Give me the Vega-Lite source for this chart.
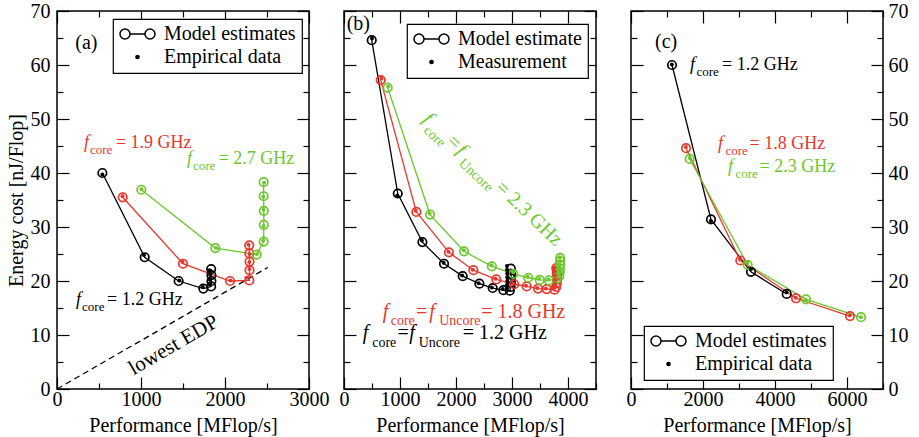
{
  "$schema": "https://vega.github.io/schema/vega-lite/v6.json",
  "background": "white",
  "padding": {"left": 5, "top": 0, "right": 5, "bottom": 3},
  "config": {
    "font": "Liberation Serif",
    "view": {"stroke": "black", "strokeWidth": 1.5},
    "style": {"guide-label": {"font": "Liberation Serif", "fontSize": 20}, "guide-title": {"font": "Liberation Serif", "fontSize": 20}},
    "text": {"font": "Liberation Serif"},
    "axis": {"domain": false, "grid": false, "labelFont": "Liberation Serif", "labelFontSize": 20, "labelColor": "black", "titleFont": "Liberation Serif", "titleFontSize": 20, "titleFontWeight": "normal", "titleColor": "black", "tickColor": "black", "tickWidth": 1.2, "labelFlush": false, "labelOverlap": false, "labelPadding": 19},
    "legend": {"labelFont": "Liberation Serif", "labelFontSize": 20, "labelColor": "black", "strokeColor": "black", "fillColor": "white", "padding": 6, "clipHeight": 18, "rowPadding": 3, "labelOffset": 8, "symbolSize": 1225, "symbolStrokeWidth": 1.5, "symbolStrokeColor": "black", "symbolFillColor": "white", "symbolOpacity": 1, "strokeWidth": 1.2}
  },
  "datasets": {
    "a_model": [
      {"fcore": "1.2", "seq": 1, "perf": 540, "energy": 40.0}, {"fcore": "1.2", "seq": 2, "perf": 1044, "energy": 24.4}, {"fcore": "1.2", "seq": 3, "perf": 1448, "energy": 20.0}, {"fcore": "1.2", "seq": 4, "perf": 1742, "energy": 18.6}, {"fcore": "1.2", "seq": 5, "perf": 1835, "energy": 19.0}, {"fcore": "1.2", "seq": 6, "perf": 1838, "energy": 20.0}, {"fcore": "1.2", "seq": 7, "perf": 1838, "energy": 21.1}, {"fcore": "1.2", "seq": 8, "perf": 1835, "energy": 22.2},
      {"fcore": "1.9", "seq": 1, "perf": 782, "energy": 35.5}, {"fcore": "1.9", "seq": 2, "perf": 1500, "energy": 23.2}, {"fcore": "1.9", "seq": 3, "perf": 2060, "energy": 20.0}, {"fcore": "1.9", "seq": 4, "perf": 2290, "energy": 20.1}, {"fcore": "1.9", "seq": 5, "perf": 2292, "energy": 22.0}, {"fcore": "1.9", "seq": 6, "perf": 2292, "energy": 23.6}, {"fcore": "1.9", "seq": 7, "perf": 2290, "energy": 25.1}, {"fcore": "1.9", "seq": 8, "perf": 2288, "energy": 26.6},
      {"fcore": "2.7", "seq": 1, "perf": 1004, "energy": 36.9}, {"fcore": "2.7", "seq": 2, "perf": 1885, "energy": 26.1}, {"fcore": "2.7", "seq": 3, "perf": 2377, "energy": 24.9}, {"fcore": "2.7", "seq": 4, "perf": 2460, "energy": 27.3}, {"fcore": "2.7", "seq": 5, "perf": 2462, "energy": 30.4}, {"fcore": "2.7", "seq": 6, "perf": 2462, "energy": 33.0}, {"fcore": "2.7", "seq": 7, "perf": 2460, "energy": 35.7}, {"fcore": "2.7", "seq": 8, "perf": 2460, "energy": 38.3}
    ],
    "a_emp": [
      {"fcore": "1.2", "perf": 540, "energy": 39.7}, {"fcore": "1.2", "perf": 1035, "energy": 24.8}, {"fcore": "1.2", "perf": 1455, "energy": 20.1}, {"fcore": "1.2", "perf": 1735, "energy": 18.9}, {"fcore": "1.2", "perf": 1815, "energy": 19.4}, {"fcore": "1.2", "perf": 1818, "energy": 20.3}, {"fcore": "1.2", "perf": 1822, "energy": 21.2}, {"fcore": "1.2", "perf": 1815, "energy": 22.0},
      {"fcore": "1.9", "perf": 780, "energy": 35.7}, {"fcore": "1.9", "perf": 1495, "energy": 23.5}, {"fcore": "1.9", "perf": 2065, "energy": 20.1}, {"fcore": "1.9", "perf": 2255, "energy": 20.6}, {"fcore": "1.9", "perf": 2290, "energy": 22.2}, {"fcore": "1.9", "perf": 2290, "energy": 23.5}, {"fcore": "1.9", "perf": 2292, "energy": 25.0}, {"fcore": "1.9", "perf": 2280, "energy": 26.7},
      {"fcore": "2.7", "perf": 1005, "energy": 37.0}, {"fcore": "2.7", "perf": 1895, "energy": 26.1}, {"fcore": "2.7", "perf": 2380, "energy": 25.0}, {"fcore": "2.7", "perf": 2455, "energy": 27.5}, {"fcore": "2.7", "perf": 2458, "energy": 30.2}, {"fcore": "2.7", "perf": 2458, "energy": 33.2}, {"fcore": "2.7", "perf": 2455, "energy": 35.6}, {"fcore": "2.7", "perf": 2465, "energy": 38.2}
    ],
    "a_txt": [
      {"fcore": "1.9", "perf": 321, "energy": 44.7, "text": "f", "part": "f"}, {"fcore": "1.9", "perf": 393, "energy": 43.6, "text": "core", "part": "sub"}, {"fcore": "1.9", "perf": 702, "energy": 44.7, "text": "= 1.9 GHz", "part": "txt"},
      {"fcore": "2.7", "perf": 1548, "energy": 41.6, "text": "f", "part": "f"}, {"fcore": "2.7", "perf": 1619, "energy": 40.5, "text": "core", "part": "sub"}, {"fcore": "2.7", "perf": 1925, "energy": 41.6, "text": "= 2.7 GHz", "part": "txt"},
      {"fcore": "1.2", "perf": 226, "energy": 15.6, "text": "f", "part": "f"}, {"fcore": "1.2", "perf": 298, "energy": 14.4, "text": "core", "part": "sub"}, {"fcore": "1.2", "perf": 595, "energy": 15.6, "text": "= 1.2 GHz", "part": "txt"}
    ],
    "b_model": [
      {"fcore": "1.2", "seq": 1, "perf": 495, "energy": 64.6}, {"fcore": "1.2", "seq": 2, "perf": 960, "energy": 36.2}, {"fcore": "1.2", "seq": 3, "perf": 1400, "energy": 27.2}, {"fcore": "1.2", "seq": 4, "perf": 1786, "energy": 23.2}, {"fcore": "1.2", "seq": 5, "perf": 2120, "energy": 20.9}, {"fcore": "1.2", "seq": 6, "perf": 2418, "energy": 19.5}, {"fcore": "1.2", "seq": 7, "perf": 2655, "energy": 18.7}, {"fcore": "1.2", "seq": 8, "perf": 2846, "energy": 18.3}, {"fcore": "1.2", "seq": 9, "perf": 2960, "energy": 18.2}, {"fcore": "1.2", "seq": 10, "perf": 2975, "energy": 18.9}, {"fcore": "1.2", "seq": 11, "perf": 2980, "energy": 19.7}, {"fcore": "1.2", "seq": 12, "perf": 2982, "energy": 20.5}, {"fcore": "1.2", "seq": 13, "perf": 2982, "energy": 21.3}, {"fcore": "1.2", "seq": 14, "perf": 2980, "energy": 22.3},
      {"fcore": "1.8", "seq": 1, "perf": 655, "energy": 57.2}, {"fcore": "1.8", "seq": 2, "perf": 1292, "energy": 32.8}, {"fcore": "1.8", "seq": 3, "perf": 1875, "energy": 25.3}, {"fcore": "1.8", "seq": 4, "perf": 2310, "energy": 22.0}, {"fcore": "1.8", "seq": 5, "perf": 2720, "energy": 20.3}, {"fcore": "1.8", "seq": 6, "perf": 3040, "energy": 19.4}, {"fcore": "1.8", "seq": 7, "perf": 3262, "energy": 19.0}, {"fcore": "1.8", "seq": 8, "perf": 3465, "energy": 18.6}, {"fcore": "1.8", "seq": 9, "perf": 3620, "energy": 18.5}, {"fcore": "1.8", "seq": 10, "perf": 3760, "energy": 18.4}, {"fcore": "1.8", "seq": 11, "perf": 3790, "energy": 18.9}, {"fcore": "1.8", "seq": 12, "perf": 3800, "energy": 19.6}, {"fcore": "1.8", "seq": 13, "perf": 3805, "energy": 20.3}, {"fcore": "1.8", "seq": 14, "perf": 3805, "energy": 21.0}, {"fcore": "1.8", "seq": 15, "perf": 3800, "energy": 21.7}, {"fcore": "1.8", "seq": 16, "perf": 3790, "energy": 22.4},
      {"fcore": "2.3", "seq": 1, "perf": 780, "energy": 55.8}, {"fcore": "2.3", "seq": 2, "perf": 1536, "energy": 32.3}, {"fcore": "2.3", "seq": 3, "perf": 2143, "energy": 25.5}, {"fcore": "2.3", "seq": 4, "perf": 2640, "energy": 22.7}, {"fcore": "2.3", "seq": 5, "perf": 3025, "energy": 21.3}, {"fcore": "2.3", "seq": 6, "perf": 3290, "energy": 20.6}, {"fcore": "2.3", "seq": 7, "perf": 3495, "energy": 20.2}, {"fcore": "2.3", "seq": 8, "perf": 3660, "energy": 20.1}, {"fcore": "2.3", "seq": 9, "perf": 3800, "energy": 20.4}, {"fcore": "2.3", "seq": 10, "perf": 3845, "energy": 20.9}, {"fcore": "2.3", "seq": 11, "perf": 3852, "energy": 21.6}, {"fcore": "2.3", "seq": 12, "perf": 3856, "energy": 22.3}, {"fcore": "2.3", "seq": 13, "perf": 3858, "energy": 23.0}, {"fcore": "2.3", "seq": 14, "perf": 3860, "energy": 23.7}, {"fcore": "2.3", "seq": 15, "perf": 3860, "energy": 24.3}
    ],
    "b_emp": [
      {"fcore": "1.2", "perf": 500, "energy": 64.9}, {"fcore": "1.2", "perf": 950, "energy": 35.8}, {"fcore": "1.2", "perf": 1390, "energy": 27.5}, {"fcore": "1.2", "perf": 1780, "energy": 23.4}, {"fcore": "1.2", "perf": 2110, "energy": 21.0}, {"fcore": "1.2", "perf": 2405, "energy": 19.6}, {"fcore": "1.2", "perf": 2640, "energy": 18.8}, {"fcore": "1.2", "perf": 2835, "energy": 18.5}, {"fcore": "1.2", "perf": 2910, "energy": 18.6}, {"fcore": "1.2", "perf": 2912, "energy": 19.3}, {"fcore": "1.2", "perf": 2915, "energy": 20.0}, {"fcore": "1.2", "perf": 2915, "energy": 20.7}, {"fcore": "1.2", "perf": 2915, "energy": 21.4}, {"fcore": "1.2", "perf": 2912, "energy": 22.1}, {"fcore": "1.2", "perf": 2910, "energy": 22.8},
      {"fcore": "1.8", "perf": 665, "energy": 57.5}, {"fcore": "1.8", "perf": 1280, "energy": 33.0}, {"fcore": "1.8", "perf": 1865, "energy": 25.4}, {"fcore": "1.8", "perf": 2300, "energy": 22.1}, {"fcore": "1.8", "perf": 2705, "energy": 20.4}, {"fcore": "1.8", "perf": 3025, "energy": 19.5}, {"fcore": "1.8", "perf": 3250, "energy": 19.1}, {"fcore": "1.8", "perf": 3450, "energy": 18.7}, {"fcore": "1.8", "perf": 3605, "energy": 18.6}, {"fcore": "1.8", "perf": 3745, "energy": 18.6}, {"fcore": "1.8", "perf": 3760, "energy": 19.4}, {"fcore": "1.8", "perf": 3765, "energy": 20.2}, {"fcore": "1.8", "perf": 3765, "energy": 21.0}, {"fcore": "1.8", "perf": 3760, "energy": 21.8}, {"fcore": "1.8", "perf": 3755, "energy": 22.5},
      {"fcore": "2.3", "perf": 790, "energy": 56.0}, {"fcore": "2.3", "perf": 1530, "energy": 32.5}, {"fcore": "2.3", "perf": 2140, "energy": 25.7}, {"fcore": "2.3", "perf": 2635, "energy": 22.9}, {"fcore": "2.3", "perf": 3020, "energy": 21.6}, {"fcore": "2.3", "perf": 3280, "energy": 20.8}, {"fcore": "2.3", "perf": 3485, "energy": 20.4}, {"fcore": "2.3", "perf": 3650, "energy": 20.3}, {"fcore": "2.3", "perf": 3835, "energy": 21.2}, {"fcore": "2.3", "perf": 3840, "energy": 22.0}, {"fcore": "2.3", "perf": 3845, "energy": 22.8}, {"fcore": "2.3", "perf": 3848, "energy": 23.6}, {"fcore": "2.3", "perf": 3850, "energy": 24.4}
    ],
    "b_txt": [
      {"fcore": "1.8", "perf": 691, "energy": 13.2, "text": "f", "part": "f"}, {"fcore": "1.8", "perf": 834, "energy": 11.85, "text": "core", "part": "sub"}, {"fcore": "1.8", "perf": 1285, "energy": 13.2, "text": "=", "part": "txt"}, {"fcore": "1.8", "perf": 1522, "energy": 13.2, "text": "f", "part": "f"}, {"fcore": "1.8", "perf": 1700, "energy": 11.85, "text": "Uncore", "part": "sub"}, {"fcore": "1.8", "perf": 2450, "energy": 13.2, "text": "= 1.8 GHz", "part": "txt"},
      {"fcore": "1.2", "perf": 334, "energy": 9.2, "text": "f", "part": "f"}, {"fcore": "1.2", "perf": 504, "energy": 7.85, "text": "core", "part": "sub"}, {"fcore": "1.2", "perf": 955, "energy": 9.2, "text": "=", "part": "txt"}, {"fcore": "1.2", "perf": 1165, "energy": 9.2, "text": "f", "part": "f"}, {"fcore": "1.2", "perf": 1335, "energy": 7.85, "text": "Uncore", "part": "sub"}, {"fcore": "1.2", "perf": 2120, "energy": 9.2, "text": "= 1.2 GHz", "part": "txt"}
    ],
    "b_rot": [
      {"fcore": "2.3", "perf": 1395, "energy": 49.7, "text": "f", "part": "f"}, {"fcore": "2.3", "perf": 1409, "energy": 47.7, "text": "core", "part": "sub"}, {"fcore": "2.3", "perf": 1820, "energy": 45.6, "text": "=", "part": "txt"}, {"fcore": "2.3", "perf": 1996, "energy": 43.9, "text": "f", "part": "f"}, {"fcore": "2.3", "perf": 2036, "energy": 41.6, "text": "Uncore", "part": "sub"}, {"fcore": "2.3", "perf": 2690, "energy": 37.1, "text": "= 2.3 GHz", "part": "txt"}
    ],
    "c_model": [
      {"fcore": "1.2", "seq": 1, "perf": 1139, "energy": 60.0}, {"fcore": "1.2", "seq": 2, "perf": 2222, "energy": 31.4}, {"fcore": "1.2", "seq": 3, "perf": 3333, "energy": 21.7}, {"fcore": "1.2", "seq": 4, "perf": 4325, "energy": 17.6},
      {"fcore": "1.8", "seq": 1, "perf": 1528, "energy": 44.6}, {"fcore": "1.8", "seq": 2, "perf": 3036, "energy": 23.8}, {"fcore": "1.8", "seq": 3, "perf": 4583, "energy": 16.8}, {"fcore": "1.8", "seq": 4, "perf": 6083, "energy": 13.5},
      {"fcore": "2.3", "seq": 1, "perf": 1630, "energy": 42.6}, {"fcore": "2.3", "seq": 2, "perf": 3241, "energy": 23.0}, {"fcore": "2.3", "seq": 3, "perf": 4861, "energy": 16.6}, {"fcore": "2.3", "seq": 4, "perf": 6389, "energy": 13.3}
    ],
    "c_emp": [
      {"fcore": "1.2", "perf": 1135, "energy": 60.1}, {"fcore": "1.2", "perf": 2215, "energy": 31.1}, {"fcore": "1.2", "perf": 3330, "energy": 22.2}, {"fcore": "1.2", "perf": 4320, "energy": 17.9},
      {"fcore": "1.8", "perf": 1525, "energy": 44.8}, {"fcore": "1.8", "perf": 3030, "energy": 24.0}, {"fcore": "1.8", "perf": 4575, "energy": 16.9}, {"fcore": "1.8", "perf": 6080, "energy": 13.6},
      {"fcore": "2.3", "perf": 1635, "energy": 42.8}, {"fcore": "2.3", "perf": 3230, "energy": 23.4}, {"fcore": "2.3", "perf": 4855, "energy": 16.5}, {"fcore": "2.3", "perf": 6385, "energy": 13.3}
    ],
    "c_txt": [
      {"fcore": "1.2", "perf": 1639, "energy": 59.0, "text": "f", "part": "f"}, {"fcore": "1.2", "perf": 1819, "energy": 58.0, "text": "core", "part": "sub"}, {"fcore": "1.2", "perf": 2528, "energy": 59.0, "text": "= 1.2 GHz", "part": "txt"},
      {"fcore": "1.8", "perf": 2417, "energy": 44.4, "text": "f", "part": "f"}, {"fcore": "1.8", "perf": 2625, "energy": 43.3, "text": "core", "part": "sub"}, {"fcore": "1.8", "perf": 3292, "energy": 44.4, "text": "= 1.8 GHz", "part": "txt"},
      {"fcore": "2.3", "perf": 2694, "energy": 40.2, "text": "f", "part": "f"}, {"fcore": "2.3", "perf": 2903, "energy": 39.1, "text": "core", "part": "sub"}, {"fcore": "2.3", "perf": 3569, "energy": 40.2, "text": "= 2.3 GHz", "part": "txt"}
    ]
  },
  "hconcat": [
    {
      "width": 252, "height": 378,
      "resolve": {"axis": {"x": "independent", "y": "independent"}},
      "layer": [
        {
          "data": {"values": [{"perf": 0, "energy": 0}, {"perf": 2510, "energy": 22.5}]},
          "mark": {"type": "line", "color": "black", "strokeWidth": 1.3, "strokeDash": [6, 4]},
          "encoding": {
            "x": {"field": "perf", "type": "quantitative", "scale": {"domain": [0, 3000], "nice": false}, "axis": null},
            "y": {"field": "energy", "type": "quantitative", "scale": {"domain": [0, 70], "nice": false}, "axis": null}
          }
        },
        {
          "data": {"name": "a_model"},
          "mark": {"type": "line", "strokeWidth": 1.3},
          "encoding": {
            "x": {"field": "perf", "type": "quantitative", "scale": {"domain": [0, 3000], "nice": false},
              "axis": {"orient": "bottom", "values": [0, 500, 1000, 1500, 2000, 2500, 3000], "format": "d", "labelFont": "Liberation Serif", "labelPadding": 12, "labelExpr": "datum.value % 1000 === 0 ? datum.label : ''", "tickSize": {"expr": "datum.value % 1000 === 0 ? -12 : -6"}, "title": "Performance [MFlop/s]", "titlePadding": 0}},
            "y": {"field": "energy", "type": "quantitative", "scale": {"domain": [0, 70], "nice": false},
              "axis": {"orient": "left", "values": [0, 5, 10, 15, 20, 25, 30, 35, 40, 45, 50, 55, 60, 65, 70], "format": "d", "labelFont": "Liberation Serif", "labelExpr": "datum.value % 10 === 0 ? datum.label : ''", "tickSize": {"expr": "datum.value % 10 === 0 ? -12 : -6"}, "title": "Energy cost [nJ/Flop]", "titlePadding": 4}},
            "color": {"field": "fcore", "type": "nominal", "scale": {"domain": ["1.2", "1.8", "1.9", "2.3", "2.7"], "range": ["#000000", "#e8372c", "#e8372c", "#6cc72d", "#6cc72d"]}, "legend": null},
            "order": {"field": "seq", "type": "quantitative"}
          }
        },
        {
          "data": {"name": "a_model"},
          "mark": {"type": "point", "shape": "circle", "filled": false, "size": 72, "strokeWidth": 1.7, "opacity": 1},
          "encoding": {
            "x": {"field": "perf", "type": "quantitative", "scale": {"domain": [0, 3000], "nice": false},
              "axis": {"orient": "top", "values": [0, 500, 1000, 1500, 2000, 2500, 3000], "labels": false, "tickSize": {"expr": "datum.value % 1000 === 0 ? -12 : -6"}, "title": null}},
            "y": {"field": "energy", "type": "quantitative", "scale": {"domain": [0, 70], "nice": false},
              "axis": {"orient": "right", "values": [0, 5, 10, 15, 20, 25, 30, 35, 40, 45, 50, 55, 60, 65, 70], "labels": false, "tickSize": {"expr": "datum.value % 10 === 0 ? -12 : -6"}, "title": null}},
            "color": {"field": "fcore", "type": "nominal", "legend": null}
          }
        },
        {
          "data": {"name": "a_emp"},
          "mark": {"type": "point", "shape": "circle", "filled": true, "size": 16, "opacity": 1},
          "encoding": {
            "x": {"field": "perf", "type": "quantitative", "axis": null},
            "y": {"field": "energy", "type": "quantitative", "axis": null},
            "color": {"field": "fcore", "type": "nominal", "legend": null}
          }
        },
        {
          "data": {"name": "a_txt"},
          "transform": [{"filter": "datum.part === 'f'"}],
          "mark": {"type": "text", "align": "left", "baseline": "alphabetic", "font": "Liberation Serif", "fontSize": 18, "fontStyle": "italic"},
          "encoding": {
            "x": {"field": "perf", "type": "quantitative", "axis": null},
            "y": {"field": "energy", "type": "quantitative", "axis": null},
            "text": {"field": "text"},
            "color": {"field": "fcore", "type": "nominal", "legend": null}
          }
        },
        {
          "data": {"name": "a_txt"},
          "transform": [{"filter": "datum.part === 'sub'"}],
          "mark": {"type": "text", "align": "left", "baseline": "alphabetic", "font": "Liberation Serif", "fontSize": 13},
          "encoding": {
            "x": {"field": "perf", "type": "quantitative", "axis": null},
            "y": {"field": "energy", "type": "quantitative", "axis": null},
            "text": {"field": "text"},
            "color": {"field": "fcore", "type": "nominal", "legend": null}
          }
        },
        {
          "data": {"name": "a_txt"},
          "transform": [{"filter": "datum.part === 'txt'"}],
          "mark": {"type": "text", "align": "left", "baseline": "alphabetic", "font": "Liberation Serif", "fontSize": 18},
          "encoding": {
            "x": {"field": "perf", "type": "quantitative", "axis": null},
            "y": {"field": "energy", "type": "quantitative", "axis": null},
            "text": {"field": "text"},
            "color": {"field": "fcore", "type": "nominal", "legend": null}
          }
        },
        {
          "data": {"values": [{"perf": 218, "energy": 62.9, "text": "(a)"}]},
          "mark": {"type": "text", "align": "left", "baseline": "alphabetic", "font": "Liberation Serif", "fontSize": 20, "color": "black"},
          "encoding": {
            "x": {"field": "perf", "type": "quantitative", "axis": null},
            "y": {"field": "energy", "type": "quantitative", "axis": null},
            "text": {"field": "text"}
          }
        },
        {
          "data": {"values": [{"perf": 1389, "energy": 8.1, "text": "lowest EDP"}]},
          "mark": {"type": "text", "align": "center", "baseline": "middle", "font": "Liberation Serif", "fontSize": 21, "angle": -30, "color": "black"},
          "encoding": {
            "x": {"field": "perf", "type": "quantitative", "axis": null},
            "y": {"field": "energy", "type": "quantitative", "axis": null},
            "text": {"field": "text"}
          }
        },
        {
          "data": {"values": [{"kind": "Model estimates"}, {"kind": "Empirical data"}]},
          "mark": {"type": "point", "filled": false, "opacity": 0},
          "encoding": {
            "shape": {"field": "kind", "type": "nominal", "title": null,
              "scale": {"domain": ["Model estimates", "Empirical data"], "range": ["M-1,0A0.286,0.286,0,1,1,-0.428,0A0.286,0.286,0,1,1,-1,0ZM-0.428,0L0.428,0M0.428,0A0.286,0.286,0,1,1,1,0A0.286,0.286,0,1,1,0.428,0Z", "M-0.0914,0A0.0914,0.0914,0,1,1,0.0914,0A0.0914,0.0914,0,1,1,-0.0914,0ZM-0.0457,0A0.0457,0.0457,0,1,1,0.0457,0A0.0457,0.0457,0,1,1,-0.0457,0Z"]},
              "legend": {"orient": "none", "legendX": 56, "legendY": 8, "title": null}}
          }
        }
      ]
    },
    {
      "width": 252, "height": 378,
      "resolve": {"axis": {"x": "independent", "y": "independent"}},
      "layer": [
        {
          "data": {"name": "b_model"},
          "mark": {"type": "line", "strokeWidth": 1.3},
          "encoding": {
            "x": {"field": "perf", "type": "quantitative", "scale": {"domain": [0, 4500], "nice": false},
              "axis": {"orient": "bottom", "values": [0, 500, 1000, 1500, 2000, 2500, 3000, 3500, 4000, 4500], "format": "d", "labelFont": "Liberation Serif", "labelPadding": 12, "labelExpr": "datum.value % 1000 === 0 ? datum.label : ''", "tickSize": {"expr": "datum.value % 1000 === 0 ? -12 : -6"}, "title": "Performance [MFlop/s]", "titlePadding": 0}},
            "y": {"field": "energy", "type": "quantitative", "scale": {"domain": [0, 70], "nice": false},
              "axis": {"orient": "left", "values": [0, 5, 10, 15, 20, 25, 30, 35, 40, 45, 50, 55, 60, 65, 70], "labels": false, "tickSize": {"expr": "datum.value % 10 === 0 ? -12 : -6"}, "title": null}},
            "color": {"field": "fcore", "type": "nominal", "scale": {"domain": ["1.2", "1.8", "1.9", "2.3", "2.7"], "range": ["#000000", "#e8372c", "#e8372c", "#6cc72d", "#6cc72d"]}, "legend": null},
            "order": {"field": "seq", "type": "quantitative"}
          }
        },
        {
          "data": {"name": "b_model"},
          "mark": {"type": "point", "shape": "circle", "filled": false, "size": 72, "strokeWidth": 1.7, "opacity": 1},
          "encoding": {
            "x": {"field": "perf", "type": "quantitative", "scale": {"domain": [0, 4500], "nice": false},
              "axis": {"orient": "top", "values": [0, 500, 1000, 1500, 2000, 2500, 3000, 3500, 4000, 4500], "labels": false, "tickSize": {"expr": "datum.value % 1000 === 0 ? -12 : -6"}, "title": null}},
            "y": {"field": "energy", "type": "quantitative", "scale": {"domain": [0, 70], "nice": false},
              "axis": {"orient": "right", "values": [0, 5, 10, 15, 20, 25, 30, 35, 40, 45, 50, 55, 60, 65, 70], "labels": false, "tickSize": {"expr": "datum.value % 10 === 0 ? -12 : -6"}, "title": null}},
            "color": {"field": "fcore", "type": "nominal", "legend": null}
          }
        },
        {
          "data": {"name": "b_emp"},
          "mark": {"type": "point", "shape": "circle", "filled": true, "size": 16, "opacity": 1},
          "encoding": {
            "x": {"field": "perf", "type": "quantitative", "axis": null},
            "y": {"field": "energy", "type": "quantitative", "axis": null},
            "color": {"field": "fcore", "type": "nominal", "legend": null}
          }
        },
        {
          "data": {"name": "b_txt"},
          "transform": [{"filter": "datum.part === 'f'"}],
          "mark": {"type": "text", "align": "left", "baseline": "alphabetic", "font": "Liberation Serif", "fontSize": 20, "fontStyle": "italic"},
          "encoding": {
            "x": {"field": "perf", "type": "quantitative", "axis": null},
            "y": {"field": "energy", "type": "quantitative", "axis": null},
            "text": {"field": "text"},
            "color": {"field": "fcore", "type": "nominal", "legend": null}
          }
        },
        {
          "data": {"name": "b_txt"},
          "transform": [{"filter": "datum.part === 'sub'"}],
          "mark": {"type": "text", "align": "left", "baseline": "alphabetic", "font": "Liberation Serif", "fontSize": 14},
          "encoding": {
            "x": {"field": "perf", "type": "quantitative", "axis": null},
            "y": {"field": "energy", "type": "quantitative", "axis": null},
            "text": {"field": "text"},
            "color": {"field": "fcore", "type": "nominal", "legend": null}
          }
        },
        {
          "data": {"name": "b_txt"},
          "transform": [{"filter": "datum.part === 'txt'"}],
          "mark": {"type": "text", "align": "left", "baseline": "alphabetic", "font": "Liberation Serif", "fontSize": 20},
          "encoding": {
            "x": {"field": "perf", "type": "quantitative", "axis": null},
            "y": {"field": "energy", "type": "quantitative", "axis": null},
            "text": {"field": "text"},
            "color": {"field": "fcore", "type": "nominal", "legend": null}
          }
        },
        {
          "data": {"name": "b_rot"},
          "transform": [{"filter": "datum.part === 'f'"}],
          "mark": {"type": "text", "align": "left", "baseline": "alphabetic", "font": "Liberation Serif", "fontSize": 20, "fontStyle": "italic", "angle": 43},
          "encoding": {
            "x": {"field": "perf", "type": "quantitative", "axis": null},
            "y": {"field": "energy", "type": "quantitative", "axis": null},
            "text": {"field": "text"},
            "color": {"field": "fcore", "type": "nominal", "legend": null}
          }
        },
        {
          "data": {"name": "b_rot"},
          "transform": [{"filter": "datum.part === 'sub'"}],
          "mark": {"type": "text", "align": "left", "baseline": "alphabetic", "font": "Liberation Serif", "fontSize": 14, "angle": 43},
          "encoding": {
            "x": {"field": "perf", "type": "quantitative", "axis": null},
            "y": {"field": "energy", "type": "quantitative", "axis": null},
            "text": {"field": "text"},
            "color": {"field": "fcore", "type": "nominal", "legend": null}
          }
        },
        {
          "data": {"name": "b_rot"},
          "transform": [{"filter": "datum.part === 'txt'"}],
          "mark": {"type": "text", "align": "left", "baseline": "alphabetic", "font": "Liberation Serif", "fontSize": 20, "angle": 44},
          "encoding": {
            "x": {"field": "perf", "type": "quantitative", "axis": null},
            "y": {"field": "energy", "type": "quantitative", "axis": null},
            "text": {"field": "text"},
            "color": {"field": "fcore", "type": "nominal", "legend": null}
          }
        },
        {
          "data": {"values": [{"perf": 48, "energy": 66.4, "text": "(b)"}]},
          "mark": {"type": "text", "align": "left", "baseline": "alphabetic", "font": "Liberation Serif", "fontSize": 20, "color": "black"},
          "encoding": {
            "x": {"field": "perf", "type": "quantitative", "axis": null},
            "y": {"field": "energy", "type": "quantitative", "axis": null},
            "text": {"field": "text"}
          }
        },
        {
          "data": {"values": [{"kind": "Model estimate"}, {"kind": "Measurement"}]},
          "mark": {"type": "point", "filled": false, "opacity": 0},
          "encoding": {
            "shape": {"field": "kind", "type": "nominal", "title": null,
              "scale": {"domain": ["Model estimate", "Measurement"], "range": ["M-1,0A0.286,0.286,0,1,1,-0.428,0A0.286,0.286,0,1,1,-1,0ZM-0.428,0L0.428,0M0.428,0A0.286,0.286,0,1,1,1,0A0.286,0.286,0,1,1,0.428,0Z", "M-0.0914,0A0.0914,0.0914,0,1,1,0.0914,0A0.0914,0.0914,0,1,1,-0.0914,0ZM-0.0457,0A0.0457,0.0457,0,1,1,0.0457,0A0.0457,0.0457,0,1,1,-0.0457,0Z"]},
              "legend": {"orient": "none", "legendX": 63, "legendY": 13, "title": null}}
          }
        }
      ]
    },
    {
      "width": 252, "height": 378,
      "resolve": {"axis": {"x": "independent", "y": "independent"}},
      "layer": [
        {
          "data": {"name": "c_model"},
          "mark": {"type": "line", "strokeWidth": 1.3},
          "encoding": {
            "x": {"field": "perf", "type": "quantitative", "scale": {"domain": [0, 7000], "nice": false},
              "axis": {"orient": "bottom", "values": [0, 1000, 2000, 3000, 4000, 5000, 6000, 7000], "format": "d", "labelFont": "Liberation Serif", "labelPadding": 12, "labelExpr": "datum.value % 2000 === 0 ? datum.label : ''", "tickSize": {"expr": "datum.value % 2000 === 0 ? -12 : -6"}, "title": "Performance [MFlop/s]", "titlePadding": 0}},
            "y": {"field": "energy", "type": "quantitative", "scale": {"domain": [0, 70], "nice": false},
              "axis": {"orient": "left", "values": [0, 5, 10, 15, 20, 25, 30, 35, 40, 45, 50, 55, 60, 65, 70], "labels": false, "tickSize": {"expr": "datum.value % 10 === 0 ? -12 : -6"}, "title": null}},
            "color": {"field": "fcore", "type": "nominal", "scale": {"domain": ["1.2", "1.8", "1.9", "2.3", "2.7"], "range": ["#000000", "#e8372c", "#e8372c", "#6cc72d", "#6cc72d"]}, "legend": null},
            "order": {"field": "seq", "type": "quantitative"}
          }
        },
        {
          "data": {"name": "c_model"},
          "mark": {"type": "point", "shape": "circle", "filled": false, "size": 72, "strokeWidth": 1.7, "opacity": 1},
          "encoding": {
            "x": {"field": "perf", "type": "quantitative", "scale": {"domain": [0, 7000], "nice": false},
              "axis": {"orient": "top", "values": [0, 1000, 2000, 3000, 4000, 5000, 6000, 7000], "labels": false, "tickSize": {"expr": "datum.value % 2000 === 0 ? -12 : -6"}, "title": null}},
            "y": {"field": "energy", "type": "quantitative", "scale": {"domain": [0, 70], "nice": false},
              "axis": {"orient": "right", "values": [0, 5, 10, 15, 20, 25, 30, 35, 40, 45, 50, 55, 60, 65, 70], "format": "d", "labelFont": "Liberation Serif", "labelExpr": "datum.value % 10 === 0 ? datum.label : ''", "tickSize": {"expr": "datum.value % 10 === 0 ? -12 : -6"}, "labelPadding": 17, "title": null}},
            "color": {"field": "fcore", "type": "nominal", "legend": null}
          }
        },
        {
          "data": {"name": "c_emp"},
          "mark": {"type": "point", "shape": "circle", "filled": true, "size": 16, "opacity": 1},
          "encoding": {
            "x": {"field": "perf", "type": "quantitative", "axis": null},
            "y": {"field": "energy", "type": "quantitative", "axis": null},
            "color": {"field": "fcore", "type": "nominal", "legend": null}
          }
        },
        {
          "data": {"name": "c_txt"},
          "transform": [{"filter": "datum.part === 'f'"}],
          "mark": {"type": "text", "align": "left", "baseline": "alphabetic", "font": "Liberation Serif", "fontSize": 18, "fontStyle": "italic"},
          "encoding": {
            "x": {"field": "perf", "type": "quantitative", "axis": null},
            "y": {"field": "energy", "type": "quantitative", "axis": null},
            "text": {"field": "text"},
            "color": {"field": "fcore", "type": "nominal", "legend": null}
          }
        },
        {
          "data": {"name": "c_txt"},
          "transform": [{"filter": "datum.part === 'sub'"}],
          "mark": {"type": "text", "align": "left", "baseline": "alphabetic", "font": "Liberation Serif", "fontSize": 13},
          "encoding": {
            "x": {"field": "perf", "type": "quantitative", "axis": null},
            "y": {"field": "energy", "type": "quantitative", "axis": null},
            "text": {"field": "text"},
            "color": {"field": "fcore", "type": "nominal", "legend": null}
          }
        },
        {
          "data": {"name": "c_txt"},
          "transform": [{"filter": "datum.part === 'txt'"}],
          "mark": {"type": "text", "align": "left", "baseline": "alphabetic", "font": "Liberation Serif", "fontSize": 18},
          "encoding": {
            "x": {"field": "perf", "type": "quantitative", "axis": null},
            "y": {"field": "energy", "type": "quantitative", "axis": null},
            "text": {"field": "text"},
            "color": {"field": "fcore", "type": "nominal", "legend": null}
          }
        },
        {
          "data": {"values": [{"perf": 667, "energy": 63.1, "text": "(c)"}]},
          "mark": {"type": "text", "align": "left", "baseline": "alphabetic", "font": "Liberation Serif", "fontSize": 20, "color": "black"},
          "encoding": {
            "x": {"field": "perf", "type": "quantitative", "axis": null},
            "y": {"field": "energy", "type": "quantitative", "axis": null},
            "text": {"field": "text"}
          }
        },
        {
          "data": {"values": [{"kind": "Model estimates"}, {"kind": "Empirical data"}]},
          "mark": {"type": "point", "filled": false, "opacity": 0},
          "encoding": {
            "shape": {"field": "kind", "type": "nominal", "title": null,
              "scale": {"domain": ["Model estimates", "Empirical data"], "range": ["M-1,0A0.286,0.286,0,1,1,-0.428,0A0.286,0.286,0,1,1,-1,0ZM-0.428,0L0.428,0M0.428,0A0.286,0.286,0,1,1,1,0A0.286,0.286,0,1,1,0.428,0Z", "M-0.0914,0A0.0914,0.0914,0,1,1,0.0914,0A0.0914,0.0914,0,1,1,-0.0914,0ZM-0.0457,0A0.0457,0.0457,0,1,1,0.0457,0A0.0457,0.0457,0,1,1,-0.0457,0Z"]},
              "legend": {"orient": "none", "legendX": 13, "legendY": 315, "title": null}}
          }
        }
      ]
    }
  ],
  "spacing": 35,
  "bounds": "flush",
  "resolve": {"scale": {"x": "independent", "y": "independent", "shape": "independent"}, "legend": {"shape": "independent"}}
}
